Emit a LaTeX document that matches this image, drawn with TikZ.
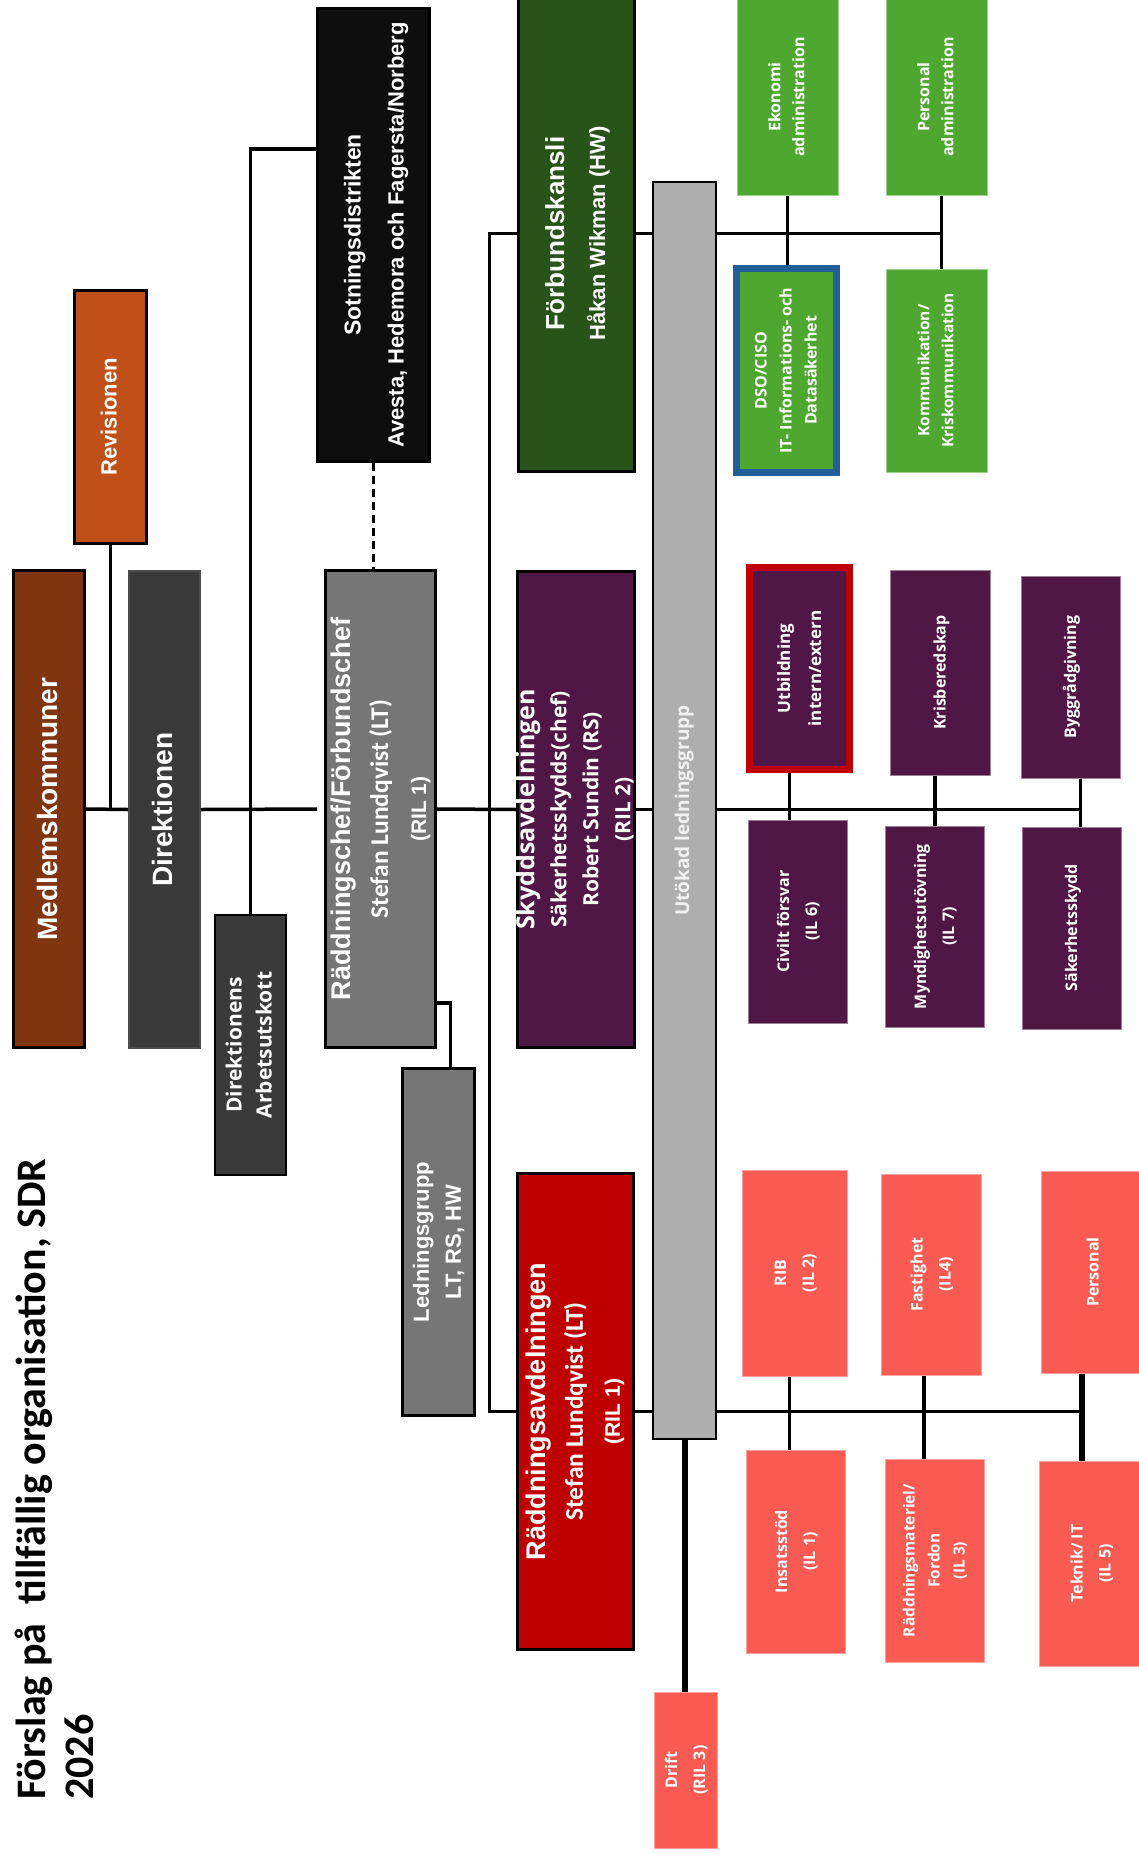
\documentclass[tikz,border=0pt]{standalone}
\usepackage{fontspec}
\setmainfont{Liberation Sans}
\newfontfamily\calfont{Carlito}
\newfontfamily\segfont{Open Sans}
\usepackage{graphicx}
\usepackage{tikz}

\definecolor{medlemC}{RGB}{128,52,16}
\definecolor{revC}{RGB}{193,80,24}
\definecolor{direkC}{RGB}{58,58,58}
\definecolor{sotC}{RGB}{14,14,14}
\definecolor{chefC}{RGB}{118,118,118}
\definecolor{kansliC}{RGB}{40,84,26}
\definecolor{skyddC}{RGB}{80,22,70}
\definecolor{raddC}{RGB}{190,0,0}
\definecolor{utokC}{RGB}{174,174,174}
\definecolor{greenC}{RGB}{78,167,46}
\definecolor{pinkC}{RGB}{249,90,81}
\definecolor{dsoC}{RGB}{33,95,154}
\definecolor{utbC}{RGB}{192,0,0}

% rotated multi-line label (takes no width, the box size is set by the node)
\newcommand{\rottext}[1]{\makebox[0pt]{\rotatebox{90}{\begin{tabular}{@{}c@{}}#1\end{tabular}}}}
\newcommand{\fs}[2]{\fontsize{#1}{#2}\selectfont}

\begin{document}
\begin{tikzpicture}[x=1pt,y=-1pt,
                    big/.style={fill=#1,draw=black,line width=3pt,text=white,inner sep=0pt,font=\bfseries},
                    small/.style={fill=#1,draw=#1!55!white,line width=1pt,text=white,inner sep=0pt,
                                  minimum width=99,minimum height=202,font=\segfont\bfseries\fs{16}{28}}]
  \tikzstyle{link}=[line width=3.5pt]

  \useasboundingbox (0,0) rectangle (1138,1854);

  % title
  \node[anchor=south west,inner sep=0pt,font=\calfont\bfseries\fs{42}{48}] (title) at (12,1800)
       {\rotatebox{90}{\begin{tabular}{@{}l@{}}Förslag på~ tillfällig organisation, SDR\\2026\end{tabular}}};

  % left column
  \node[big=medlemC,minimum width=71,minimum height=477] (medlem) at (49,809)
       {\rottext{\fs{28}{32}Medlemskommuner}};
  \node[big=revC,minimum width=72,minimum height=253] (revision) at (110.5,417)
       {\rottext{\fs{22}{26}Revisionen}};
  \node[big=direkC,draw=black!70,line width=2pt,minimum width=71,minimum height=477] (direktion) at (164.5,809.5)
       {\rottext{\fs{28}{32}Direktionen}};
  \node[big=direkC,line width=2pt,minimum width=71,minimum height=260,font=\segfont\bfseries\fs{21}{30}] (arbets) at (250.5,1045)
       {\rottext{Direktionens\\Arbetsutskott}};
  \node[big=sotC,minimum width=112,minimum height=453,font=\bfseries\fs{22}{43}] (sotning) at (373.5,235)
       {\rottext{{\fs{23}{27}Sotningsdistrikten}\\Avesta, Hedemora och Fagersta/Norberg}};
  \node[big=chefC,minimum width=110,minimum height=477,font=\bfseries\fs{21}{38}] (chef) at (380.5,809)
       {\rottext{{\fs{27}{31}Räddningschef/Förbundschef}\\{\calfont\fs{25.5}{30}Stefan Lundqvist (LT)}\\(RIL 1)}};
  \node[big=chefC,minimum width=72,minimum height=347,font=\bfseries\fs{22}{32}] (ledgrp) at (438.5,1242)
       {\rottext{Ledningsgrupp\\LT, RS, HW}};

  % departments
  \node[big=kansliC,minimum width=116,minimum height=475,font=\bfseries\fs{22}{41}] (kansli) at (576.5,233.5)
       {\rottext{{\fs{26}{30}Förbundskansli}\\Håkan Wikman (HW)}};
  \node[big=skyddC,minimum width=117,minimum height=476,font=\segfont\bfseries\fs{21}{32}] (skydd) at (576,809.5)
       {\rottext{{\fs{25}{29}Skyddsavdelningen}\\Säkerhetsskydds(chef)\\Robert Sundin (RS)\\(RIL 2)}};
  \node[big=raddC,minimum width=116,minimum height=476,font=\bfseries\fs{21}{37}] (radd) at (575.5,1411.5)
       {\rottext{{\fs{27}{31}Räddningsavdelningen}\\{\calfont\fs{25.5}{30}Stefan Lundqvist (LT)}\\(RIL 1)}};
  \node[big=utokC,line width=2.5pt,minimum width=63,minimum height=1257,text=white!95!black,font=\segfont\bfseries\fs{19}{23}] (utokad) at (684.5,810.5)
       {\rottext{Utökad ledningsgrupp}};
  \node[small=pinkC,minimum width=63,minimum height=156] (drift) at (685.5,1770)
       {\rottext{Drift\\(RIL 3)}};

  % Förbundskansli units
  \node[small=greenC,minimum width=101,minimum height=198,font=\segfont\bfseries\fs{16}{24}] (ekonomi) at (787.5,97)
       {\rottext{Ekonomi\\administration}};
  \node[small=greenC,minimum width=101,minimum height=198,font=\segfont\bfseries\fs{16}{24}] (persadm) at (936.5,97)
       {\rottext{Personal\\administration}};
  \node[small=greenC,draw=dsoC,line width=7pt,minimum width=100,minimum height=204,font=\segfont\bfseries\fs{16}{25}] (dso) at (786.5,370.5)
       {\rottext{DSO/CISO\\IT- Informations- och\\Datasäkerhet}};
  \node[small=greenC,minimum width=101,minimum height=203,font=\segfont\bfseries\fs{15.5}{24}] (komm) at (936.5,370.5)
       {\rottext{Kommunikation/\\Kriskommunikation}};

  % Skyddsavdelningen units
  \node[small=skyddC,draw=utbC,line width=7pt,minimum width=100,minimum height=202,font=\segfont\bfseries\fs{17}{31}] (utbild) at (799.5,668.5)
       {\rottext{Utbildning\\intern/extern}};
  \node[small=skyddC,minimum width=100,minimum height=205] (krisb) at (940,672.5)
       {\rottext{Krisberedskap}};
  \node[small=skyddC,minimum width=99,minimum height=202] (bygg) at (1070.5,677)
       {\rottext{Byggrådgivning}};
  \node[small=skyddC,minimum height=203] (civilt) at (797.5,921.5)
       {\rottext{Civilt försvar\\(IL 6)}};
  \node[small=skyddC,minimum height=201] (myndig) at (934.5,926.5)
       {\rottext{Myndighetsutövning\\(IL 7)}};
  \node[small=skyddC] (sakerh) at (1071.5,928)
       {\rottext{Säkerhetsskydd}};

  % Räddningsavdelningen units
  \node[small=pinkC,minimum width=105,minimum height=206] (rib) at (794.5,1273)
       {\rottext{RIB\\(IL 2)}};
  \node[small=pinkC,minimum width=100,minimum height=201] (fastig) at (931,1274.5)
       {\rottext{Fastighet\\(IL4)}};
  \node[small=pinkC,minimum width=104] (personal) at (1093,1272)
       {\rottext{Personal}};
  \node[small=pinkC,minimum height=203] (insats) at (795.5,1551.5)
       {\rottext{Insatsstöd\\(IL 1)}};
  \node[small=pinkC,minimum height=203,font=\segfont\bfseries\fs{15.5}{25}] (raddmat) at (934.5,1560.5)
       {\rottext{Räddningsmateriel/\\Fordon\\(IL 3)}};
  \node[small=pinkC,minimum width=104,minimum height=205] (teknik) at (1091,1563.5)
       {\rottext{Teknik/ IT\\(IL 5)}};

  % connections
  \draw[link] (medlem.east) -- (direktion.west);
  \draw[link] (revision.south) -- (revision.south |- medlem.east);
  \draw[link,shorten >=7pt] (direktion.east) -- (chef.west);
  \draw[link] ([yshift=86pt]sotning.west) -| (arbets.north);
  \draw[line width=2.5pt,dash pattern=on 8pt off 5pt] (sotning.south) -- (sotning.south |- chef.north);
  \draw[link] (chef.east) -- (skydd.west);
  \draw[link] ([yshift=-194pt]chef.east) -| ([xshift=12pt]ledgrp.north);
  \draw[line width=3pt] (kansli.west) -- ++(-28,0) |- (radd.west);

  \draw[link] (kansli.east) -- (utokad.west |- kansli.east);
  \draw[link] (skydd.east) -- (utokad.west |- skydd.east);
  \draw[link] (radd.east) -- (utokad.west |- radd.east);
  \draw[line width=6pt] (utokad.south) -- (utokad.south |- drift.north);

  \draw[link] (utokad.east |- kansli.east) -- ([xshift=5pt]persadm.south |- kansli.east);
  \draw[link] (ekonomi.south) -- (ekonomi.south |- dso.north);
  \draw[link] ([xshift=5pt]persadm.south) -- ([xshift=5pt]persadm.south |- komm.north);

  \draw[link] (utokad.east |- skydd.east) -- ([xshift=10pt]bygg.south |- skydd.east);
  \draw[link] ([xshift=-10pt]utbild.south) -- ([xshift=-10pt]utbild.south |- civilt.north);
  \draw[link] ([xshift=-5pt]krisb.south) -- ([xshift=-5pt]krisb.south |- myndig.north);
  \draw[link] ([xshift=10pt]bygg.south) -- ([xshift=10pt]bygg.south |- sakerh.north);

  \draw[link] (utokad.east |- radd.east) -- ([xshift=-11pt]personal.south |- radd.east);
  \draw[link] ([xshift=-5pt]rib.south) -- ([xshift=-5pt]rib.south |- insats.north);
  \draw[link] ([xshift=-7pt]fastig.south) -- ([xshift=-7pt]fastig.south |- raddmat.north);
  \draw[line width=6pt] ([xshift=-11pt]personal.south) -- ([xshift=-11pt]personal.south |- teknik.north);
\end{tikzpicture}
\end{document}
